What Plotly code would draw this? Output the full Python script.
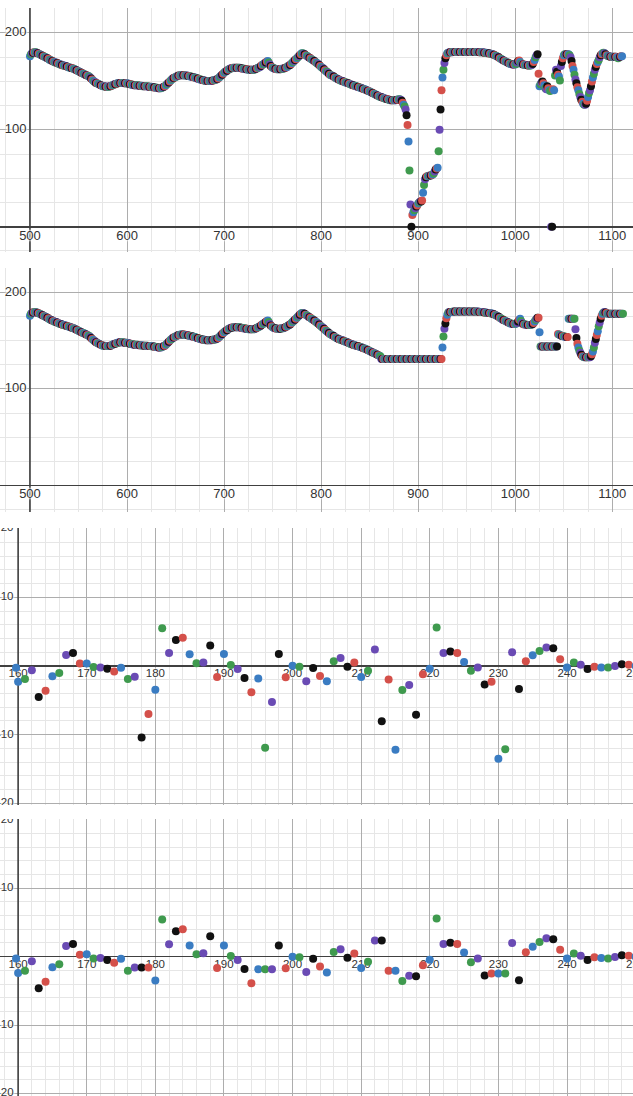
import plotly.graph_objects as go

# ------------------------------------------------------------------ data
# Panel 1 / 2 : sample index 500..1110 (raw) and 500..1111 (cleaned)
x_raw = list(range(500, 1111))
y_raw = [
    176, 178, 179, 179.5, 180, 180, 180, 179.5, 179, 178.5,            # 500
    178, 177.5, 177, 176.5, 176, 175.5, 175, 174.5, 174, 173.5,         # 510
    172.5, 172, 171.5, 171, 170.5, 170, 169.5, 169.5, 169, 168.5,       # 520
    168, 167.5, 167.5, 167, 166.5, 166.5, 166, 166, 165.5, 165,         # 530
    164.5, 164.5, 164, 163.5, 163.5, 163, 162.5, 162, 161.5, 161,       # 540
    160.5, 160, 159.5, 159, 158.5, 158, 157.5, 157, 156.5, 156,         # 550
    155.5, 155, 154, 153, 152, 151, 150, 149.5, 148.5, 148,             # 560
    147.5, 147, 146.5, 146, 145.5, 145, 145, 145, 144.5, 144.5,         # 570
    144.5, 144.5, 145, 145, 145.5, 146, 146.5, 147, 147, 147.5,         # 580
    148, 148, 148.5, 148.5, 148.5, 148.5, 148.5, 148, 148, 148,         # 590
    148, 147.5, 147.5, 147, 147, 146.5, 146.5, 146, 146, 146,           # 600
    146, 146, 145.5, 145.5, 145.5, 145.5, 145, 145, 145, 145,           # 610
    145, 145, 144.5, 144.5, 144.5, 144.5, 144, 144, 144, 143.5,         # 620
    143.5, 143.5, 143, 143, 143, 143, 143.5, 144, 144.5, 145,           # 630
    146, 147, 148, 149, 150, 151, 152, 153, 153.5, 154,                 # 640
    154.5, 155, 155.5, 156, 156, 156.5, 156.5, 156.5, 156.5, 156.5,     # 650
    156, 156, 156, 155.5, 155.5, 155, 155, 154.5, 154.5, 154,           # 660
    154, 153.5, 153, 153, 152.5, 152, 152, 151.5, 151.5, 151,           # 670
    151, 150.5, 150.5, 150.5, 150.5, 150.5, 150.5, 150.5, 151, 151,     # 680
    151.5, 151.5, 152, 152.5, 153, 154, 155, 156, 157, 158,             # 690
    159, 160, 160.5, 161, 162, 162.5, 163, 163.5, 163.5, 164,           # 700
    164, 164, 164, 164, 164, 164, 164, 163.5, 163.5, 163,               # 710
    163, 163, 162.5, 162.5, 162.5, 162, 162, 162, 162, 162,             # 720
    162, 162, 162.5, 163, 163.5, 164, 164.5, 165, 166, 167,             # 730
    167.5, 168, 169, 169.5, 170.5, 171, 169.5, 167.5, 166, 165,         # 740
    164, 163.5, 163, 163, 162.5, 162.5, 162.5, 162.5, 162.5, 163,       # 750
    163, 163, 163.5, 164, 164.5, 165, 166, 166.5, 167, 168,             # 760
    169, 170, 171, 172, 173, 174, 175, 176, 177, 178,                   # 770
    179, 179, 178.5, 178, 177, 176.5, 176, 175, 174.5, 174,             # 780
    173, 172.5, 171.5, 171, 170, 169.5, 168.5, 168, 167, 166,           # 790
    165, 164, 163.5, 162.5, 161.5, 160.5, 160, 159, 158, 157,           # 800
    156.5, 156, 155.5, 155, 154, 153.5, 153, 152.5, 152, 151.5,         # 810
    151, 150.5, 150.5, 150, 149.5, 149, 149, 148.5, 148, 147.5,         # 820
    147, 146.5, 146.5, 146, 145.5, 145.5, 145, 144.5, 144.5, 144,       # 830
    143.5, 143.5, 143, 142.5, 142, 142, 141.5, 141, 140.5, 140,         # 840
    139.5, 139, 138.5, 138, 137.5, 137, 136.5, 136, 135.5, 135,         # 850
    134.5, 134, 134, 133.5, 133, 132.5, 132, 132, 131.5, 131.5,         # 860
    131, 130.5, 130.5, 130.5, 130.5, 130.5, 130.5, 130.5, 131, 131,     # 870
    131.5, 131.5, 131, 130, 128, 126, 124, 121, 115, 105,               # 880
    88, 58, 23, 0, 12, 15, 17, 19, 21, 22,                              # 890
    24, 25, 26, 26, 27, 35, 43, 49, 51, 52,                             # 900
    52, 52.5, 53, 53, 53.5, 54, 55, 57, 59, 60,                         # 910
    61, 78, 100, 121, 141, 154, 162, 169, 174, 177,                     # 920
    179, 179.5, 180, 180, 180, 180, 180.5, 180.5, 180.5, 180.5,         # 930
    180.5, 180.5, 180.5, 180.5, 180.5, 180.5, 180.5, 180.5, 180.5, 180.5,  # 940
    180.5, 180.5, 180.5, 180.5, 180.5, 180.5, 180.5, 180.5, 180.5, 180.5,  # 950
    180.5, 180.5, 180.5, 180, 180, 180, 180, 180, 179.5, 179.5,         # 960
    179.5, 179, 179, 179, 178.5, 178.5, 178, 178, 177.5, 177,           # 970
    176.5, 176, 175.5, 175, 174, 173.5, 173, 172, 171.5, 171,           # 980
    170.5, 170, 169.5, 169, 168.5, 168, 168, 167.5, 167.5, 167.5,       # 990
    167.5, 168, 169.5, 171, 171.5, 170, 168.5, 168, 167.5, 167.5,       # 1000
    167, 167, 167, 166.5, 166.5, 166.5, 166.5, 167, 168, 170,           # 1010
    172, 175, 177, 178, 158, 145, 147, 149, 150, 148,                   # 1020
    146, 143, 142, 145, 143, 141, 140, 0, 0, 142,                       # 1030
    141, 156, 162, 160, 157, 155, 151, 166, 170, 174,                   # 1040
    177, 178, 178, 178, 178, 178, 177, 175, 171, 166,                   # 1050
    162, 157, 152, 148, 144, 141, 137, 134, 131, 129,                   # 1060
    127, 126, 126, 127, 130, 134, 138, 141, 145, 150,                   # 1070
    154, 158, 162, 165, 168, 170, 172, 175, 177, 178,                   # 1080
    179, 179.5, 179, 178, 177, 176.5, 176, 176, 175.5, 175.5,           # 1090
    175.5, 175.5, 175.5, 175.5, 175.5, 175, 174, 175, 175.5, 176, 176,  # 1100
]

x_clean = list(range(500, 1112))
clean_flat_862_924 = [
    131, 131, 131, 131, 131, 131, 131, 131, 131, 131,
    131, 131, 131, 131, 131, 131, 131, 131, 131, 131,
    131, 131, 131, 131, 131, 131, 131, 131, 131, 131,
    131, 131, 131, 131, 131, 131, 131, 131, 131, 131,
    131, 131, 131, 131, 131, 131, 131, 131, 131, 131,
    131, 131, 131, 131, 131, 131, 131, 131, 131, 131,
    131, 131, 131,
]
clean_rise_925_930 = [143, 154.5, 162.5, 168, 173.5, 177]
clean_1002_1024 = [168.5, 170, 172, 173, 170.5, 168.5, 167.5, 167, 167, 167,
                   166.5, 166.5, 166.5, 166.5, 166.5, 167, 167.5, 168.5, 170,
                   171.5, 173, 174, 174]
clean_1025_1111 = [
    159,
    144, 144, 144, 144, 144, 144, 144, 144, 144,
    144, 144, 144, 144, 144, 144, 144, 144, 144,
    157, 156.5, 156, 155.5, 155, 155, 154.5, 154.5, 154, 154, 154,
    173, 173, 173, 173, 173, 173, 173,
    162, 153, 147, 143, 140, 137.5, 135.5, 134, 133.5, 133,
    133, 133, 133, 133, 133, 133, 134, 136, 139, 143,
    148, 152, 156, 160, 165, 169, 173, 176, 178, 179.5,
    180, 179.5, 179, 178, 178, 178, 178, 178, 178, 178,
    178, 178, 178, 178, 178, 178, 178, 178, 178, 178,
]
y_clean = (y_raw[0:362] + clean_flat_862_924 + clean_rise_925_930
           + y_raw[431:502] + clean_1002_1024 + clean_1025_1111)

# Panel 3 / 4 : differences, index 160..250
x_diff = [159.7] + list(range(160, 251))
d_raw = [
    -0.24,
    -2.3, -1.9, -0.6, -4.5, -3.6, -1.5, -1.0, 1.6, 1.9, 0.35,           # 160
    0.35, -0.15, -0.2, -0.4, -0.8, -0.25, -1.9, -1.55, -10.4, -7.0,     # 170
    -3.45, 5.5, 1.9, 3.8, 4.1, 1.7, 0.4, 0.5, 3.0, -1.6,                # 180
    1.75, 0.15, -0.45, -1.75, -3.8, -1.8, -11.9, -5.25, 1.75, -1.65,    # 190
    0.05, -0.1, -2.2, -0.3, -1.45, -2.2, 0.7, 1.15, -0.1, 0.5,          # 200
    -1.6, -0.7, 2.4, -8.05, -1.95, -12.2, -3.5, -2.75, -7.1, -1.2,      # 210
    -0.4, 5.6, 1.9, 2.1, 1.9, 0.6, -0.7, -0.2, -2.7, -2.3,              # 220
    -13.5, -12.1, 2.0, -3.35, 0.7, 1.55, 2.2, 2.7, 2.6, 1.0,            # 230
    -0.2, 0.5, 0.2, -0.45, -0.1, -0.2, -0.2, 0.0, 0.25, 0.2,            # 240
    0.0,                                                                # 250
]
d_clean = [
    -0.25,
    -2.4, -2.05, -0.65, -4.6, -3.65, -1.55, -1.1, 1.55, 1.85, 0.3,      # 160
    0.35, -0.25, -0.2, -0.5, -0.9, -0.3, -2.05, -1.6, -1.6, -1.6,       # 170
    -3.5, 5.45, 1.8, 3.7, 4.0, 1.65, 0.35, 0.5, 3.0, -1.65,             # 180
    1.65, 0.1, -0.5, -1.8, -3.9, -1.85, -1.85, -1.85, 1.65, -1.7,       # 190
    0.0, -0.1, -2.25, -0.3, -1.45, -2.3, 0.7, 1.1, -0.15, 0.45,         # 200
    -1.65, -0.75, 2.35, 2.35, -2.05, -2.05, -3.55, -2.8, -2.85, -1.25,  # 210
    -0.45, 5.6, 1.85, 2.05, 1.85, 0.6, -0.8, -0.25, -2.75, -2.45,       # 220
    -2.45, -2.45, 2.0, -3.45, 0.65, 1.45, 2.15, 2.7, 2.55, 1.0,         # 230
    -0.25, 0.45, 0.15, -0.5, -0.1, -0.2, -0.25, -0.05, 0.2, 0.15,       # 240
    0.0,                                                                # 250
]

# tick labels
wide_xticks = [500, 600, 700, 800, 900, 1000, 1100]
wide_yticks = [200, 100]
diff_xticks = [160, 170, 180, 190, 200, 210, 220, 230, 240, 250]
diff_yticks = [20, 10, -10, -20]

# ------------------------------------------------------------------ style
PALETTE = ['#3a7cc2', '#3f9a4e', '#6a4bb4', '#111111', '#d4504a']  # by index mod 5
MAJOR = '#adadad'
MINOR = '#e6e6e6'
AXIS = '#404040'
FONT = 'Arial, Liberation Sans, sans-serif'
HALO = '0 0 2px #fff, 0 0 2px #fff, 0 0 3px #fff, 0 0 3px #fff'
MSIZE = 8

panels = [
    dict(x=x_raw, y=y_raw, xr=[469.1, 1121.3], yr=[-26.1, 225.8],
         dom=[0.77007, 0.99270], maj=100, mnr=25, xt=wide_xticks, yt=wide_yticks,
         lab_y=-10.1, lab_x=496.4, fs=13, left=500),
    dict(x=x_clean, y=y_clean, xr=[469.1, 1121.3], yr=[-27.7, 225.6],
         dom=[0.53285, 0.75547], maj=100, mnr=25, xt=wide_xticks, yt=wide_yticks,
         lab_y=-10.1, lab_x=496.4, fs=13, left=500),
    dict(x=x_diff, y=d_raw, xr=[157.36, 249.62], yr=[-20.23, 20.09],
         dom=[0.26551, 0.51825], maj=10, mnr=2, xt=diff_xticks, yt=diff_yticks,
         lab_y=-1.21, lab_x=159.33, fs=11.5, left=160),
    dict(x=x_diff, y=d_clean, xr=[157.36, 249.62], yr=[-20.37, 20.13],
         dom=[0.0, 0.25274], maj=10, mnr=2, xt=diff_xticks, yt=diff_yticks,
         lab_y=-1.21, lab_x=159.33, fs=11.5, left=160),
]

fig = go.Figure()
layout = dict(width=633, height=1096, margin=dict(l=0, r=0, t=0, b=0),
              paper_bgcolor='white', plot_bgcolor='white', showlegend=False)

for i, p in enumerate(panels, start=1):
    xa = 'x' if i == 1 else f'x{i}'
    ya = 'y' if i == 1 else f'y{i}'
    # dark vertical reference line at the left of the view
    fig.add_trace(go.Scatter(
        x=[p['left'], p['left']], y=p['yr'], xaxis=xa, yaxis=ya, mode='lines',
        line=dict(color=AXIS, width=1.6), hoverinfo='skip', cliponaxis=True))
    # axis labels (under the points)
    fig.add_trace(go.Scatter(
        x=p['xt'], y=[p['lab_y']] * len(p['xt']), xaxis=xa, yaxis=ya,
        mode='text', text=[str(v) for v in p['xt']], textposition='middle center',
        textfont=dict(family=FONT, size=p['fs'], color='#333333', shadow=HALO),
        hoverinfo='skip', cliponaxis=True))
    fig.add_trace(go.Scatter(
        x=[p['lab_x']] * len(p['yt']), y=p['yt'], xaxis=xa, yaxis=ya,
        mode='text', text=[str(v) for v in p['yt']], textposition='middle left',
        textfont=dict(family=FONT, size=p['fs'], color='#333333', shadow=HALO),
        hoverinfo='skip', cliponaxis=True))
    # points, drawn in order so later samples overlap earlier ones
    cols = [PALETTE[int(round(v)) % 5] for v in p['x']]
    fig.add_trace(go.Scatter(
        x=p['x'], y=p['y'], xaxis=xa, yaxis=ya, mode='markers',
        marker=dict(size=MSIZE, color=cols, line=dict(width=0)),
        hoverinfo='skip', cliponaxis=True))

    common = dict(showticklabels=False, ticks='', showline=False,
                  showgrid=True, gridcolor=MAJOR, gridwidth=1, layer='below traces')
    layout['xaxis' if i == 1 else f'xaxis{i}'] = dict(
        domain=[0, 1], range=p['xr'], anchor=ya, tick0=0, dtick=p['maj'],
        minor=dict(tick0=0, dtick=p['mnr'], showgrid=True, gridcolor=MINOR, gridwidth=1),
        zeroline=False, **common)
    layout['yaxis' if i == 1 else f'yaxis{i}'] = dict(
        domain=p['dom'], range=p['yr'], anchor=xa, tick0=0, dtick=p['maj'],
        minor=dict(tick0=0, dtick=p['mnr'], showgrid=True, gridcolor=MINOR, gridwidth=1),
        zeroline=True, zerolinecolor=AXIS, zerolinewidth=1.6, **common)

fig.update_layout(**layout)
fig.write_html('out.html',
               config={'displayModeBar': False, 'staticPlot': True},
               post_script="document.body.style.margin='0px';"
                           "document.documentElement.style.overflow='hidden';")
